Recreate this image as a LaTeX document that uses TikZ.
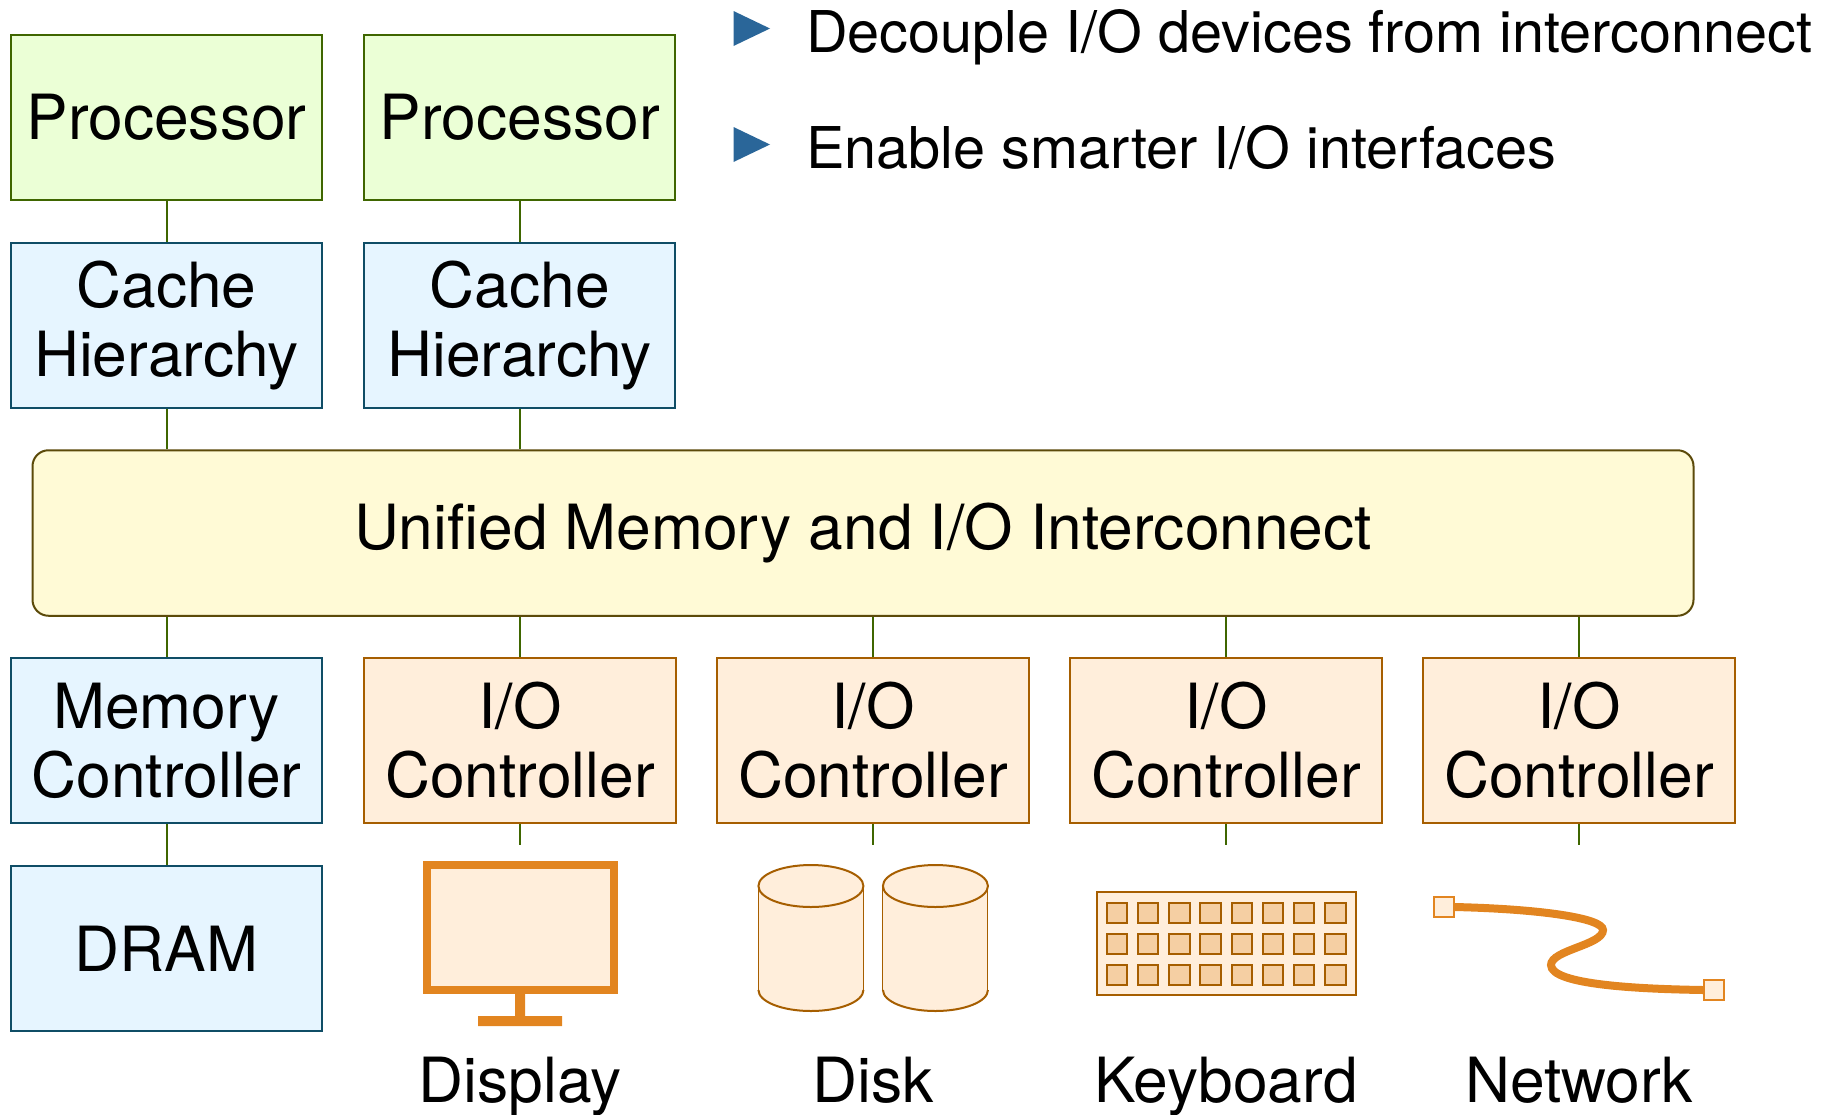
\documentclass[tikz,border=0pt]{standalone}
\usepackage{fontspec}
\setmainfont{TeX Gyre Heros}
\usetikzlibrary{positioning}
\definecolor{procfill}{HTML}{EBFFD6}
\definecolor{procline}{HTML}{3F6600}
\definecolor{memfill}{HTML}{E6F5FF}
\definecolor{memline}{HTML}{0F4D66}
\definecolor{busfill}{HTML}{FFFAD6}
\definecolor{busline}{HTML}{5C4A0A}
\definecolor{iofill}{HTML}{FFEEDB}
\definecolor{ioline}{HTML}{A65E00}
\definecolor{iodark}{HTML}{E28520}
\definecolor{keyfill}{HTML}{F5CFA3}
\definecolor{bullet}{HTML}{2A6699}
\begin{document}
\begin{tikzpicture}[x=1pt,y=-1pt,
blk/.style={draw,line width=2pt,minimum width=311.5pt,minimum height=165.5pt,inner sep=0pt,align=center,font=\bigfont},
proc/.style={blk,draw=procline,fill=procfill},
mem/.style={blk,draw=memline,fill=memfill},
ioc/.style={blk,draw=ioline,fill=iofill},
bus/.style={blk,draw=busline,fill=busfill,minimum width=1661pt,rounded corners=16pt},
wire/.style={draw=procline,line width=2pt},
lbl/.style={font=\bigfont,anchor=base,inner sep=0pt},
point/.style={font=\pointfont,anchor=base west,inner sep=0pt},
keycap/.style={draw=ioline,line width=2pt,fill=keyfill,minimum width=20.5pt,minimum height=20pt,inner sep=0pt},
plug/.style={draw=iodark,line width=2pt,fill=iofill,minimum width=19.5pt,minimum height=19.5pt,inner sep=0pt}]
\newcommand{\bigfont}{\fontsize{62.3}{69}\selectfont}
\newcommand{\pointfont}{\fontsize{57.6}{60}\selectfont}
\useasboundingbox (0,0) rectangle (1838,1114);

\node[proc] (proc1) at (166.5,117.5) {Processor};
\node[proc,right=39.7pt of proc1] (proc2) {Processor};
\node[mem,below=40.5pt of proc1] (cache1) {Cache\\Hierarchy};
\node[mem,below=40.5pt of proc2] (cache2) {Cache\\Hierarchy};
\node[bus] (inter) at (863,533) {Unified Memory and I/O Interconnect};
\node[mem] (memctl) at (166.5,740.5) {Memory\\Controller};
\node[mem,below=40.5pt of memctl] (dram) {DRAM};
\foreach \i/\x in {1/520,2/873,3/1226,4/1579} {
   \node[ioc] (io\i) at (\x,740.5) {I/O\\Controller};
   \coordinate (stub\i) at (\x,845);
   \draw[wire] (io\i.south) -- (stub\i);
   \draw[wire] (io\i.north) -- (io\i.north |- inter.south);
}
\foreach \i in {1,2} {
   \draw[wire] (proc\i) -- (cache\i);
   \draw[wire] (cache\i.south) -- (cache\i.south |- inter.north);
}
\draw[wire] (memctl.north) -- (memctl.north |- inter.south);
\draw[wire] (memctl) -- (dram);

% points
\foreach \y/\1 in {52/{Decouple I/O devices from interconnect},168/{Enable smarter I/O interfaces}} {
   \fill[bullet] (733.5,\y-41) -- (770,\y-23.5) -- (733.5,\y-6) -- cycle;
   \node[point] at (806,\y) {\1};
}

% display
\draw[draw=iodark,line width=8pt,fill=iofill] (426.5,865) rectangle (613.5,990);
\fill[iodark] (515,994) rectangle (525,1016) (478,1016) rectangle (562,1026);
\node[lbl] (displbl) at (520,1102) {Display};

% disks
\foreach \x in {810.9,935.4} {
   \fill[iofill] (\x-52.5,886) -- (\x-52.5,990) arc[start angle=180,end angle=360,x radius=52.5,y radius=-21] -- (\x+52.5,886) -- cycle;
   \draw[ioline,line width=1pt] (\x-52.5,886) -- (\x-52.5,990) (\x+52.5,886) -- (\x+52.5,990);
   \draw[ioline,line width=2pt] (\x-52.5,990) arc[start angle=180,end angle=360,x radius=52.5,y radius=-21];
   \draw[ioline,line width=2pt,fill=iofill] (\x,886) ellipse[x radius=52.5,y radius=21];
}
\node[lbl] (disklbl) at (873,1102) {Disk};

% keyboard
\node[draw=ioline,line width=2pt,fill=iofill,minimum width=259pt,minimum height=103pt,inner sep=0pt] (keyb) at (1226.3,943.5) {};
\foreach \r in {0,1,2} {
   \foreach \c in {0,...,7} {
      \node[keycap] (key\r\c) at (1117+\c*31.2,912.5+\r*31.2) {};
   }
}
\node[lbl] (keylbl) at (1226,1102) {Keyboard};

% network
\node[plug] (netl) at (1444,907) {};
\node[plug] (netr) at (1714,990) {};
\draw[iodark,line width=8pt] (netl.east) .. controls (1540,909) and (1603,918) .. (1603,930)
   .. controls (1603,945) and (1551,950) .. (1551,965)
   .. controls (1551,985) and (1640,989) .. (netr.west);
\node[lbl] (netlbl) at (1579,1102) {Network};
\end{tikzpicture}
\end{document}
